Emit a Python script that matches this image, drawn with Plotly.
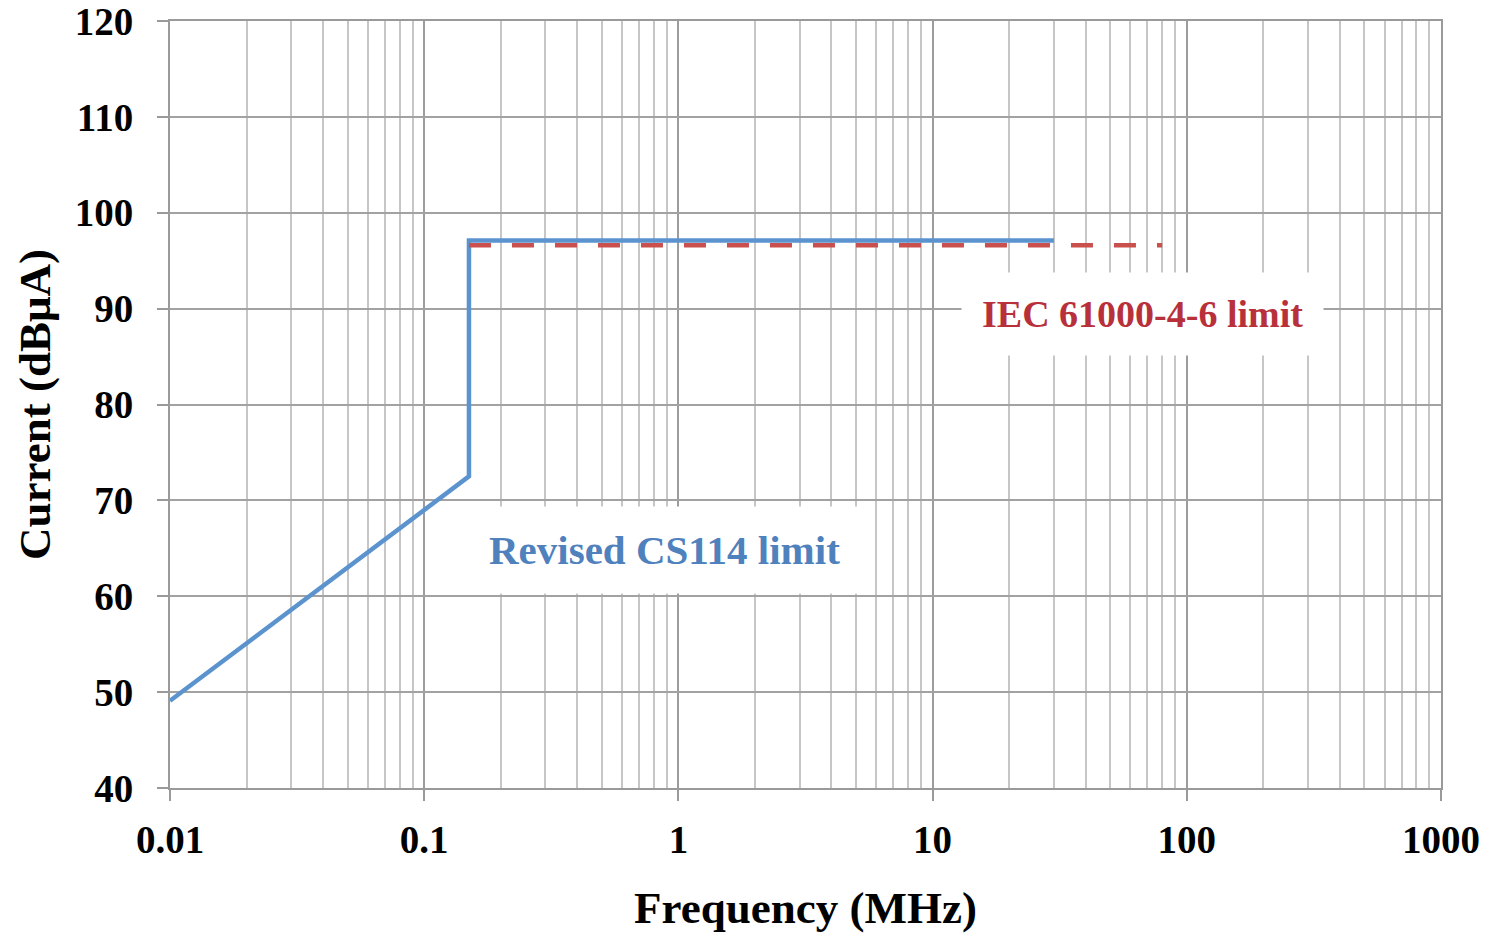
import math
import plotly.graph_objects as go

# Data
cs114_freq = [0.01, 0.15, 0.15, 30]
cs114_level = [49.1, 72.5, 97.1, 97.1]
iec_freq = [0.15, 80]
iec_level = [96.6, 96.6]

x_tickvals = [0.01, 0.1, 1, 10, 100, 1000]
x_ticktext = ["0.01", "0.1", "1", "10", "100", "1000"]
y_tickvals = [40, 50, 60, 70, 80, 90, 100, 110, 120]

FONT = "Liberation Serif"
BLUE_LINE = "#5B93CF"
BLUE_TEXT = "#4F81BD"
RED_LINE = "#C9504D"
RED_TEXT = "#B8303A"

fig = go.Figure()
fig.add_trace(go.Scatter(x=cs114_freq, y=cs114_level, mode="lines",
                         line=dict(color=BLUE_LINE, width=4.5), showlegend=False))
fig.add_trace(go.Scatter(x=iec_freq, y=iec_level, mode="lines",
                         line=dict(color=RED_LINE, width=4.5, dash="22px,21px"),
                         showlegend=False))

fig.add_annotation(x=math.log10(67), y=89.4, xref="x", yref="y",
                   text="<b>IEC 61000-4-6 limit</b>", showarrow=False,
                   font=dict(family=FONT, size=38, color=RED_TEXT),
                   bgcolor="white", borderpad=20, xanchor="center", yanchor="middle")
fig.add_annotation(x=math.log10(0.88), y=64.8, xref="x", yref="y",
                   text="<b>Revised CS114 limit</b>", showarrow=False,
                   font=dict(family=FONT, size=41, color=BLUE_TEXT),
                   bgcolor="white", borderpad=20, xanchor="center", yanchor="middle")

tick_font = dict(family=FONT, size=39, color="black", weight="bold")

fig.update_xaxes(type="log", range=[-2, 3],
                 tickvals=x_tickvals, ticktext=x_ticktext,
                 tickfont=tick_font,
                 ticks="outside", ticklen=11, tickwidth=2, tickcolor="#9a9a9a",
                 showgrid=True, gridcolor="#9c9c9c", gridwidth=1.8,
                 minor=dict(dtick="D1", showgrid=True, gridcolor="#c6c6c6", gridwidth=1.8, ticks=""),
                 showline=True, linecolor="#9a9a9a", linewidth=2, mirror=True,
                 title=dict(text="<b>Frequency (MHz)</b>", font=dict(family=FONT, size=45, color="black"),
                            standoff=32),
                 ticklabelstandoff=5, ticklabeloverflow="allow", zeroline=False,
                 automargin=False)
fig.update_yaxes(range=[40, 120], tickvals=y_tickvals,
                 tickfont=tick_font,
                 ticks="outside", ticklen=11, tickwidth=2, tickcolor="#9a9a9a",
                 showgrid=True, gridcolor="#a2a2a2", gridwidth=2,
                 showline=True, linecolor="#9a9a9a", linewidth=2, mirror=True,
                 title=dict(text="<b>Current (dBμA)</b>", font=dict(family=FONT, size=45, color="black"),
                            standoff=10),
                 ticklabelstandoff=16, ticklabeloverflow="allow", zeroline=False,
                 automargin=False)

fig.update_layout(width=1488, height=933,
                  margin=dict(l=170, r=47, t=21, b=145),
                  plot_bgcolor="white", paper_bgcolor="white",
                  font=dict(family=FONT))

fig.write_html("out.html")
